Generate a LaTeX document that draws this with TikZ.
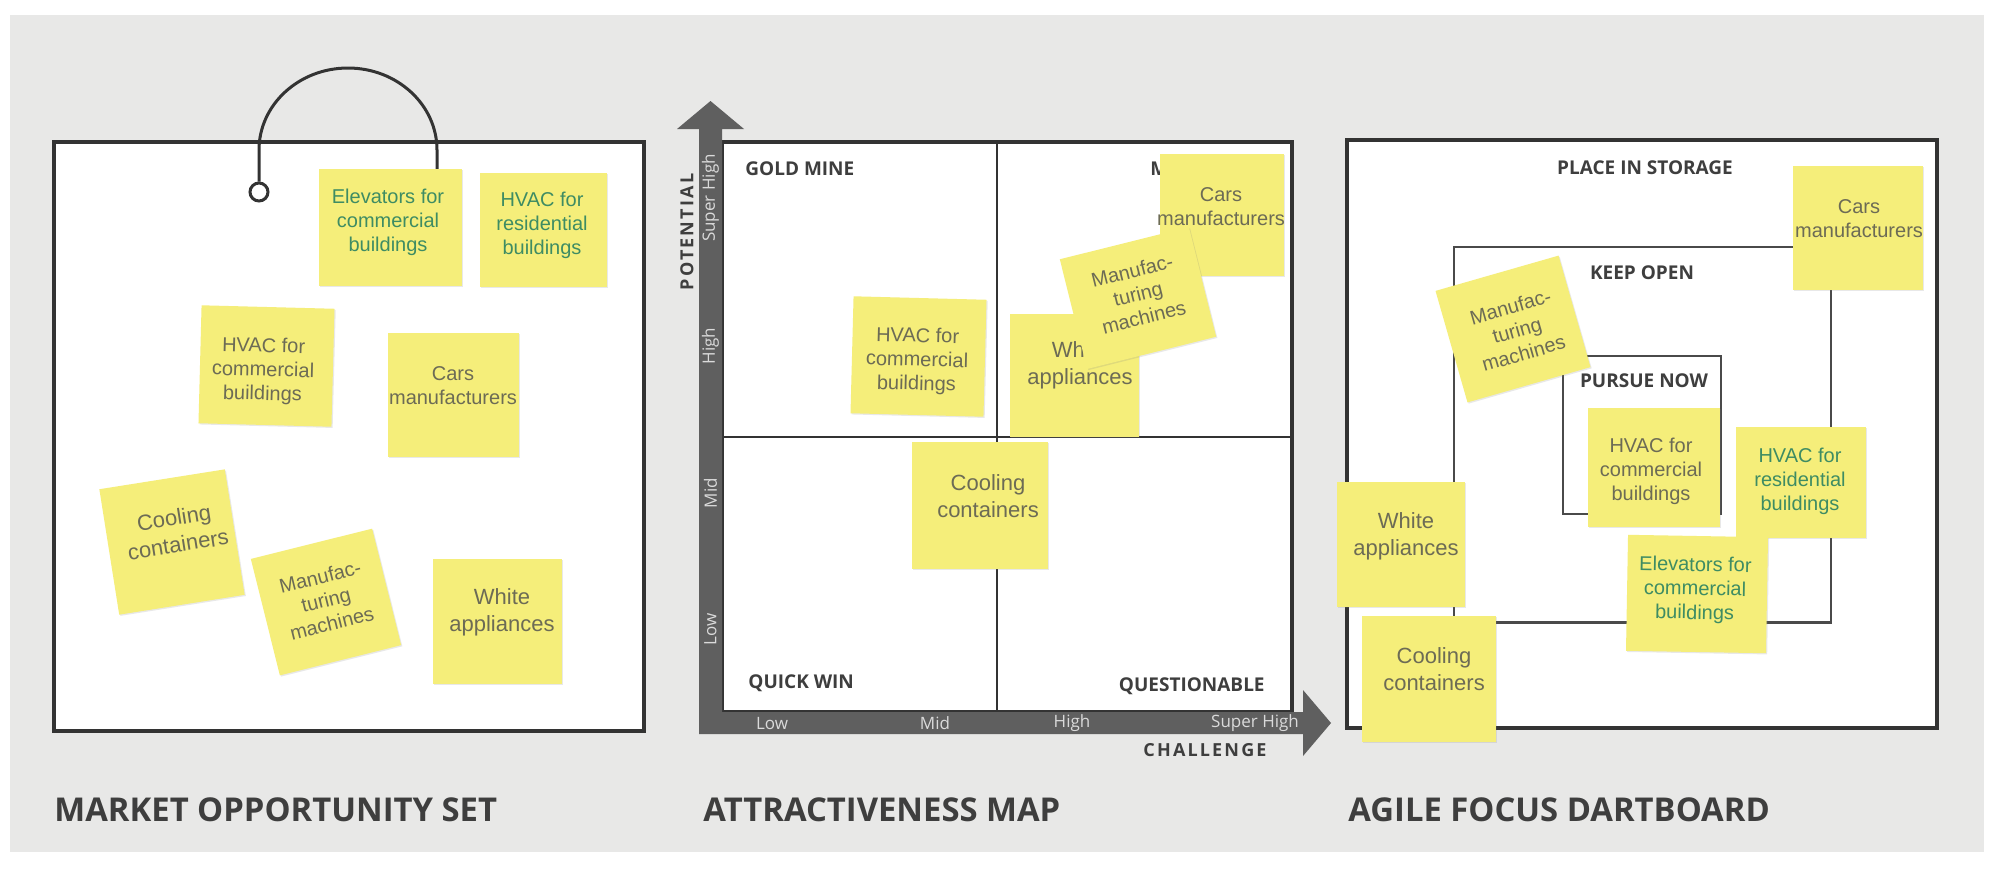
\documentclass[tikz,border=0pt]{standalone}
\usepackage{fontspec}
\setmainfont{Open Sans}
\newfontfamily\stickyfont{Liberation Sans}
\usetikzlibrary{shadows}

\definecolor{bggrey}{HTML}{E8E8E7}
\definecolor{noteyellow}{HTML}{F5EE7A}
\definecolor{notetext}{HTML}{6C6B55}
\definecolor{notegreen}{HTML}{3E8C63}
\definecolor{axisgrey}{HTML}{5F5F5F}
\definecolor{linedark}{HTML}{333333}
\definecolor{linemid}{HTML}{4A4A4A}
\definecolor{labeldark}{HTML}{3E3E3E}
\definecolor{ticklight}{HTML}{DADADA}

\tikzset{
  note/.style={fill=noteyellow, draw=none, inner sep=0pt,
    drop shadow={shadow xshift=0.6pt, shadow yshift=-0.6pt, opacity=0.18}},
  notetxt/.style={font=\stickyfont\fontsize{10}{12}\selectfont, text=notetext,
    align=center, inner sep=0pt},
  bigtxt/.style={notetxt, font=\stickyfont\fontsize{11}{13.5}\selectfont},
  greentxt/.style={notetxt, text=notegreen},
  lab/.style={font=\bfseries\fontsize{9.5}{11}\selectfont, text=labeldark, inner sep=0pt},
  axislab/.style={font=\bfseries\fontsize{9}{11}\selectfont\addfontfeature{LetterSpace=12},
    text=labeldark, inner sep=0pt},
  paneltitle/.style={font=\bfseries\fontsize{16.4}{19}\selectfont, text=labeldark,
    inner sep=0pt, anchor=base west},
  tick/.style={font=\fontsize{8.5}{10}\selectfont, text=ticklight, inner sep=0pt},
  board/.style={draw=linedark, line width=1.6pt, fill=white},
  ring/.style={draw=linedark, line width=1.5pt},
}

% sticky note: name, centre, width, height (px), rotation, text centre, text style, text
\newcommand\stickynote[8]{%
  \node[note, minimum width={#3*0.5pt}, minimum height={#4*0.5pt}, rotate=#5] (#1) at #2 {};
  \node[#7, rotate=#5] (#1-text) at #6 {#8};
}

\begin{document}
\begin{tikzpicture}[x=0.5pt, y=-0.5pt]
\useasboundingbox (0,0) rectangle (2000,874);
\fill[white] (0,0) rectangle (2000,874);
\fill[bggrey] (10,15) rectangle (1984,852);

% ---------- market opportunity set ----------
\draw[board] (54,142) rectangle (644,731);
\node[circle, ring, minimum size=9pt, inner sep=0pt] (ring) at (259,192) {};
\coordinate (hookL) at (259,150);
\coordinate (hookEnd) at (437,169);
\draw[ring] (ring.north) -- (hookL)
  arc[start angle=180, end angle=0, x radius=44.5pt, y radius=41pt] -- (hookEnd);

\stickynote{lElev}{(390.5,227.5)}{143}{117}{0}{(388,222)}{greentxt}{Elevators for\\commercial\\buildings}
\stickynote{lHvacRes}{(543.5,230)}{127}{114}{0}{(542,225)}{greentxt}{HVAC for\\residential\\buildings}
\stickynote{lHvacCom}{(266.5,366)}{133}{118}{-1.5}{(263,371)}{notetxt}{HVAC for\\commercial\\buildings}
\stickynote{lCars}{(453.5,395)}{131}{124}{0}{(453,385.5)}{notetxt}{Cars\\manufacturers}
\stickynote{lCool}{(172,542)}{127}{127}{9}{(176,531)}{bigtxt}{Cooling\\containers}
\stickynote{lManu}{(326,602)}{125}{120}{14}{(326,600)}{notetxt}{Manufac-\\turing\\machines}
\stickynote{lWhite}{(497.5,621.5)}{129}{125}{0}{(502,612)}{bigtxt}{White\\appliances}

\node[paneltitle] (t1) at (54,821) {MARKET OPPORTUNITY SET};

% ---------- attractiveness map ----------
\draw[board] (722,142) rectangle (1292,712);
\draw[linedark, line width=1pt] (997,142) -- (997,712);
\draw[linedark, line width=1pt] (722,437) -- (1292,437);

\node[lab, anchor=base west] (gold) at (745,175) {GOLD MINE};
\node[lab, anchor=base west] (mlab) at (1150,175) {M};
\node[lab, anchor=base west] (quick) at (748,688) {QUICK WIN};
\node[lab, anchor=base east] (quest) at (1265,691) {QUESTIONABLE};

% axes
\fill[axisgrey] (699,734) -- (699,129) -- (677,129) -- (710.5,101) -- (744,129)
  -- (722,129) -- (722,712) -- (1303,712) -- (1303,690) -- (1331,723)
  -- (1303,756) -- (1303,734) -- cycle;
\node[tick, rotate=90] (ySH) at (710.5,198) {Super High};
\node[tick, rotate=90] (yH) at (710.5,346) {High};
\node[tick, rotate=90] (yM) at (710.5,493) {Mid};
\node[tick, rotate=90] (yL) at (710.5,629) {Low};
\node[tick] (xL) at (772,723) {Low};
\node[tick] (xM) at (935,723) {Mid};
\node[tick] (xH) at (1072,723) {High};
\node[tick] (xSH) at (1255,723) {Super High};
\node[axislab, rotate=90] (potential) at (687,232) {POTENTIAL};
\node[axislab] (challenge) at (1205,750) {CHALLENGE};

\stickynote{mHvacCom}{(918.5,356.5)}{133}{117}{-1.5}{(917,361)}{notetxt}{HVAC for\\commercial\\buildings}
\stickynote{mWhite}{(1074.5,375.5)}{129}{123}{0}{(1080,365.5)}{bigtxt}{White\\appliances}
\stickynote{mCool}{(980,505.5)}{136}{127}{0}{(988,496)}{bigtxt}{Cooling\\containers}
\stickynote{mCars}{(1222,215)}{124}{122}{0}{(1221,206.5)}{notetxt}{Cars\\manufacturers}
\stickynote{mManu}{(1138,298)}{133}{113}{14}{(1138,294)}{notetxt}{Manufac-\\turing\\machines}

\node[paneltitle] (t2) at (703,821) {ATTRACTIVENESS MAP};

% ---------- agile focus dartboard ----------
\draw[board] (1347,140) rectangle (1937,728);
\draw[linemid, line width=1.1pt] (1454,247) rectangle (1831,622.5);
\draw[linemid, line width=1.1pt] (1563,356) rectangle (1721,514);
\node[lab] (storage) at (1645,168) {PLACE IN STORAGE};
\node[lab] (keep) at (1642,273) {KEEP OPEN};
\node[lab] (pursue) at (1644,381) {PURSUE NOW};

\stickynote{rCars}{(1858,228)}{130}{124}{0}{(1859,219)}{notetxt}{Cars\\manufacturers}
\stickynote{rManu}{(1513,329)}{128}{116}{16}{(1517,330)}{notetxt}{Manufac-\\turing\\machines}
\stickynote{rHvacCom}{(1654,467.5)}{132}{119}{0}{(1651,471)}{notetxt}{HVAC for\\commercial\\buildings}
\stickynote{rHvacRes}{(1801,482.5)}{130}{111}{0}{(1800,481)}{greentxt}{HVAC for\\residential\\buildings}
\stickynote{rElev}{(1697,594)}{140}{116}{-1}{(1695,590)}{greentxt}{Elevators for\\commercial\\buildings}
\stickynote{rWhite}{(1401,544.5)}{128}{125}{0}{(1406,536.5)}{bigtxt}{White\\appliances}
\stickynote{rCool}{(1428.5,678.5)}{134}{126}{0}{(1434,669.5)}{bigtxt}{Cooling\\containers}

\node[paneltitle] (t3) at (1348,821) {AGILE FOCUS DARTBOARD};
\end{tikzpicture}
\end{document}
